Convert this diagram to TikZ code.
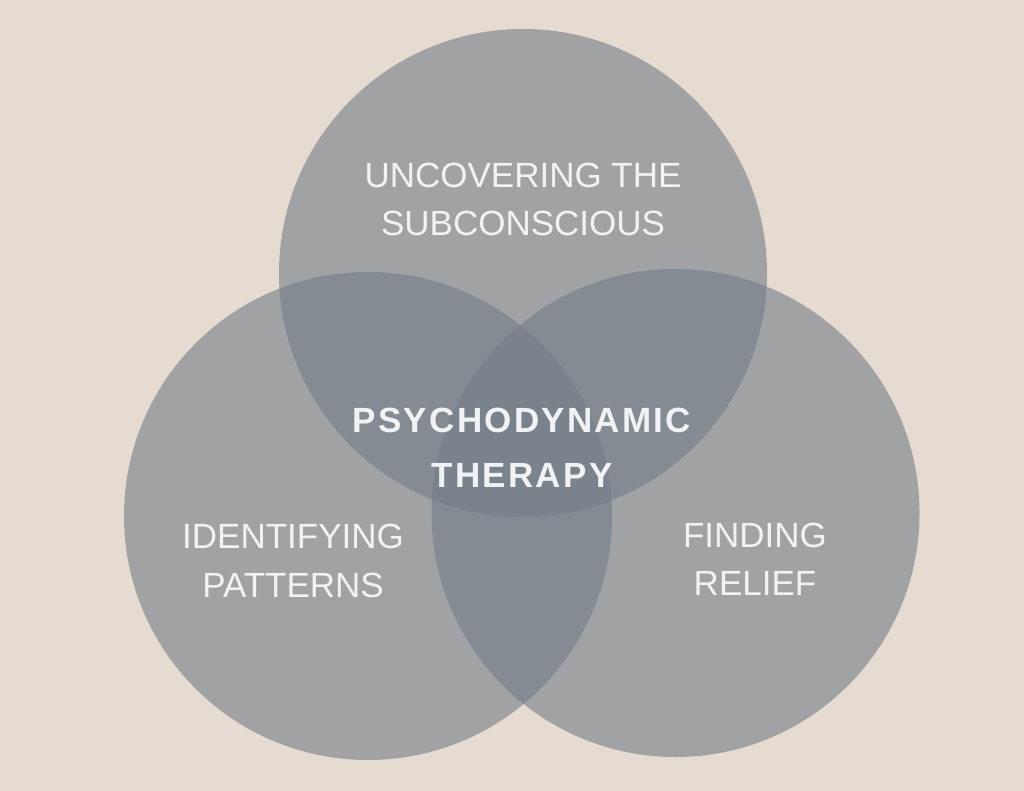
\documentclass[tikz,border=0pt]{standalone}
\usepackage{fontspec}
\setmainfont{Liberation Sans}
\newfontfamily\boldwide[LetterSpace=6.5]{Liberation Sans Bold}
\definecolor{bgc}{HTML}{E6DBD0}
\definecolor{circc}{RGB}{115,124,136}
\definecolor{txtc}{HTML}{F1F2F4}
\tikzset{
  venn/.style={circle, minimum size=488pt, inner sep=0pt, fill=circc, fill opacity=0.6, draw=none},
  lbl/.style={anchor=base, inner sep=0pt, text=txtc, font=\fontsize{35}{42}\selectfont},
  clbl/.style={anchor=base, inner sep=0pt, text=txtc, font=\fontsize{35}{42}\boldwide\bfseries},
}
\begin{document}
\begin{tikzpicture}[x=1pt,y=-1pt]
\fill[bgc] (0,0) rectangle (1024,791);
\useasboundingbox (0,0) rectangle (1024,791);
\node[venn] (top) at (523,273) {};
\node[venn] (left) at (368,516) {};
\node[venn] (right) at (675.5,513) {};
\node[lbl] (t1) at (523,188) {UNCOVERING THE};
\node[lbl] (t2) at (523,236) {SUBCONSCIOUS};
\node[lbl] (l1) at (293,548) {IDENTIFYING};
\node[lbl] (l2) at (293,597) {PATTERNS};
\node[lbl] (r1) at (755,547) {FINDING};
\node[lbl] (r2) at (755,595) {RELIEF};
\node[clbl] (c1) at (522,432) {PSYCHODYNAMIC};
\node[clbl] (c2) at (522,487) {THERAPY};
\end{tikzpicture}
\end{document}
